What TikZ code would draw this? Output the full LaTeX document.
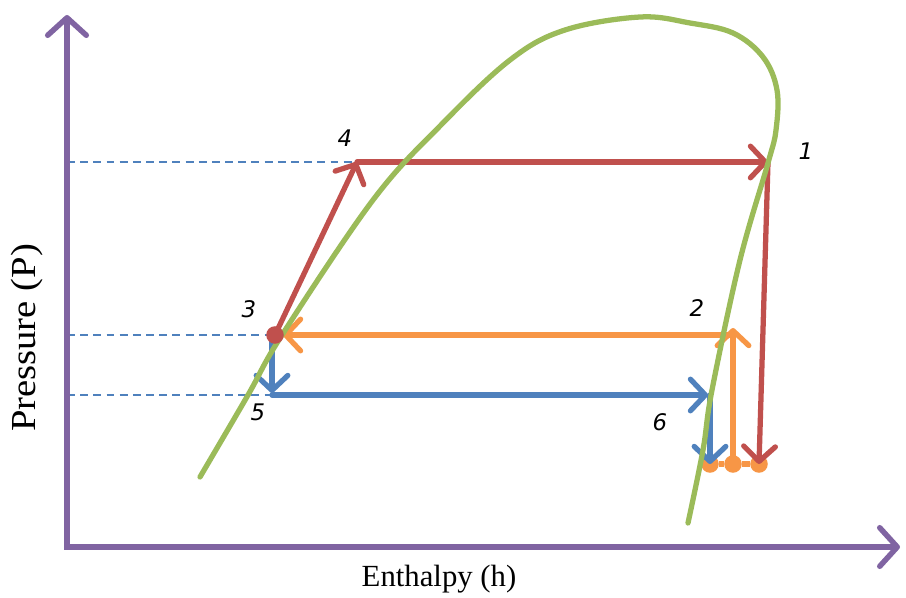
\documentclass[tikz,border=0pt]{standalone}
\usepackage{fontspec}
\setmainfont{Liberation Serif}
\newfontfamily\numfont{DejaVu Sans}
\usetikzlibrary{arrows.meta}
\definecolor{axispurple}{HTML}{8064A2}
\definecolor{curvegreen}{HTML}{9BBB59}
\definecolor{cyclered}{HTML}{C0504D}
\definecolor{cycleorange}{HTML}{F79646}
\definecolor{cycleblue}{HTML}{4F81BD}
\tikzset{
  axis/.style={draw=axispurple, line width=3.1pt, line join=miter},
  axtip/.tip={Straight Barb[length=10pt,width=22pt,line cap=round,line join=round]},
  flow/.style={line width=3pt, line cap=round, -{Straight Barb[length=8.5pt,width=18pt,line cap=round,line join=round]}},
  guide/.style={draw=cycleblue, line width=1pt, dash pattern=on 4.5pt off 3pt},
  dot/.style={circle, inner sep=0pt, minimum size=10pt},
  num/.style={font=\numfont\itshape\fontsize{13}{15}\selectfont}
}
\begin{document}
\begin{tikzpicture}[x=0.02cm,y=-0.02cm]
\useasboundingbox (0,0) rectangle (906,598);

   \coordinate (O) at (67,547);
   \coordinate (ytop) at (67,15);
   \coordinate (xend) at (900,547);

   \coordinate (p1) at (768,162);
   \coordinate (p2) at (733,335);
   \coordinate (p3) at (275,335);
   \coordinate (p4) at (357,162);
   \coordinate (p5) at (272,395);
   \coordinate (p6) at (710,395);
   \coordinate (g1) at (67,162);
   \coordinate (g3) at (67,335);
   \coordinate (g5) at (67,395);

   \draw[guide] (g1) -- (p4);
   \draw[guide] (g3) -- (p3);
   \draw[guide] (g5) -- (p5);

   \draw[axis, axtip-axtip] (ytop) -- (O) -- (xend);

   \node[rotate=90, xscale=1.1, font=\fontsize{20}{24}\selectfont] (ylab) at (27,338) {Pressure (P)};
   \node[font=\fontsize{17.5}{20}\selectfont] (xlab) at (439,579) {Enthalpy (h)};

   \node[dot, fill=cycleorange] (b6) at (710,464) {};
   \node[dot, fill=cycleorange] (b2) at (733,464) {};
   \node[dot, fill=cycleorange] (b1) at (759,464) {};
   \draw[cycleorange, line width=3.6pt] (b6) -- (b2) -- (b1);

   \draw[flow, cyclered] (p3) -- (p4);
   \draw[flow, cyclered] (p4) -- (p1);
   \draw[flow, cyclered] (p1) -- (b1.center);
   \draw[flow, cycleorange] (b2.center) -- (733,328);
   \draw[flow, cycleorange] (p2) -- (283,335);
   \draw[flow, cycleblue] (272,338) -- (272,393);
   \draw[flow, cycleblue] (p5) -- (708,395);
   \draw[flow, cycleblue] (p6) -- (b6.center);

   \draw[curvegreen, line width=3pt, line cap=round] plot[smooth, tension=0.6] coordinates {(200,477) (248,395) (282,335) (373,200) (440,126) (510,60) (565,30) (640,17) (690,23) (733,33) (763,57) (777,90) (776,130) (768,163) (740,260) (712,390) (703,450) (688,523)};

   \node[dot, fill=cyclered] (d3) at (p3) {};

   \node[num] (l1) at (806,151) {1};
   \node[num] (l2) at (697,308) {2};
   \node[num] (l3) at (249,309) {3};
   \node[num] (l4) at (345,138) {4};
   \node[num] (l5) at (258,412) {5};
   \node[num] (l6) at (660,422) {6};

\end{tikzpicture}
\end{document}
